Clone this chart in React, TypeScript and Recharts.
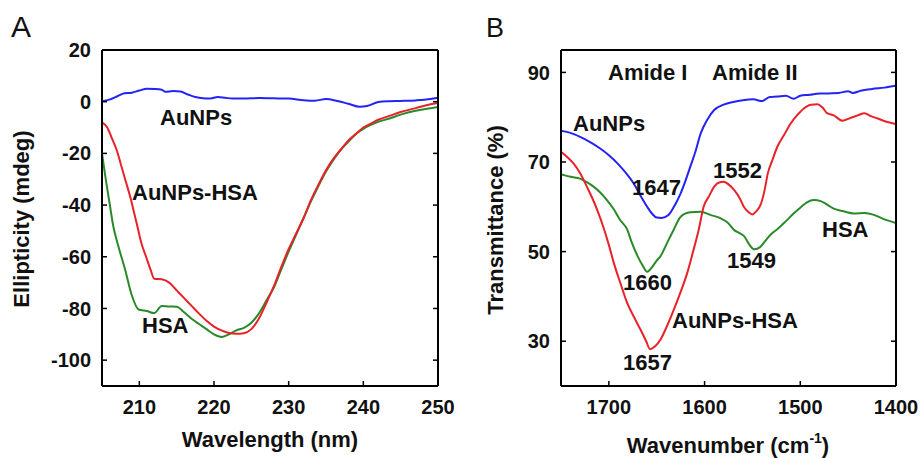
import React from "react";
import { LineChart, Line, XAxis, YAxis } from "recharts";

// Panel A: CD spectra, [wavelength nm, ellipticity mdeg]
const cdAuNPs = [
  [205, 0.2], [206, 0.8], [207, 2], [208, 3.3], [209, 3.5], [210, 4.3], [211, 5], [212, 4.9],
  [213, 4.6], [213.5, 3.8], [214.5, 4.1], [215.5, 3.9], [216.5, 2.8], [217.5, 1.8], [218.5, 1.3],
  [219.5, 1.2], [220.5, 1.8], [221.5, 1.5], [222.5, 1.2], [224, 1.2], [226, 1.4], [228, 1.3],
  [230, 1.2], [232, 0.6], [233.5, 0.4], [235, 1.0], [236.5, 0.3], [238, -0.8], [239.5, -2.0],
  [240.5, -1.7], [242, -0.1], [243.5, 0.2], [245, 0.3], [247, 0.5], [249, 1.0], [250, 1.5],
];

const cdAuNPsHSA = [
  [205, -8], [205.7, -10], [206.3, -14], [207, -19], [207.6, -25], [208.2, -31], [208.8, -37],
  [209.3, -43], [209.8, -49], [210.3, -55], [210.9, -60], [211.5, -65], [212, -68.5], [213, -68.7],
  [214, -70], [215, -73], [216, -76], [217, -79], [218, -82], [219, -84.8], [220, -87], [221, -88.5],
  [222, -89.5], [223, -89.8], [224, -89.6], [225, -88], [226, -84], [227, -78], [228, -71.5],
  [229, -64], [230, -57], [231, -51], [232, -45], [233, -38], [234, -32], [235, -26.5], [236, -22],
  [237, -18.5], [238, -15], [239, -12.5], [240, -10], [241, -8.5], [242, -7], [243.5, -5.5],
  [245, -4], [247, -2.5], [249, -1], [250, -0.5],
];

const cdHSA = [
  [205, -20], [205.5, -30], [206, -39], [206.5, -48], [207.2, -56], [208.1, -65], [209, -75],
  [209.9, -80.4], [211, -81], [212, -81.8], [213, -79], [214, -79.2], [215, -79.3], [216, -81.5],
  [217, -84], [218, -86], [219, -88], [220, -90], [221, -91], [222, -90], [223, -88.5], [224, -87.5],
  [225, -85.5], [226, -82], [227, -77], [228, -72], [229, -65], [230, -58], [231, -51.5], [232, -45],
  [233, -38.5], [234, -32.5], [235, -27], [236, -22.5], [237, -18.5], [238, -15.5], [239, -12.5],
  [240, -10.5], [241, -9], [242, -7.8], [243.5, -6.5], [245, -5], [247, -3.5], [249, -2.5], [250, -2],
];

// Panel B: FTIR, [wavenumber cm-1, transmittance %]
const irAuNPs = [
  [1750, 77], [1740, 76.5], [1730, 75.6], [1720, 74.5], [1709, 73], [1700, 71.5], [1691, 69.7],
  [1682, 67.5], [1674, 65.2], [1667, 62.5], [1660, 60], [1655, 58.5], [1650, 57.6], [1645, 57.5],
  [1638, 58.1], [1632, 60], [1625, 63], [1620, 65.8], [1615, 68.9], [1610, 72], [1604, 76.4],
  [1597, 79.5], [1590, 81.6], [1580, 82.8], [1570, 83.4], [1560, 83.8], [1549, 84], [1540, 83.6],
  [1532, 84.5], [1524, 84.6], [1515, 84.8], [1507, 84.1], [1500, 84.8], [1490, 85], [1480, 85.3],
  [1472, 85.3], [1460, 85.4], [1450, 85.8], [1445, 85.4], [1437, 85.9], [1425, 86.3], [1412, 86.6],
  [1400, 87],
];

const irAuNPsHSA = [
  [1750, 72.3], [1743, 71], [1737, 69.7], [1730, 67.5], [1723, 64.5], [1717, 61.8], [1712, 59.2],
  [1705, 55], [1700, 51.5], [1695, 47.6], [1688, 43], [1681, 38.6], [1674, 35.5], [1667, 32.6],
  [1661, 30], [1657, 28.2], [1652, 28.8], [1646, 30.4], [1639, 33.5], [1632, 37.1], [1625, 41],
  [1618, 45.3], [1612, 50], [1606, 55], [1601, 60], [1595, 62.5], [1590, 64.5], [1584, 65.5],
  [1580, 65.6], [1575, 65], [1569, 63.7], [1563, 61.8], [1559, 60], [1554, 58.8], [1550, 58.3],
  [1546, 59], [1541, 60.7], [1537, 64], [1534, 67.4], [1529, 70.5], [1524, 73.4], [1517, 76],
  [1510, 78.6], [1503, 80.5], [1496, 82], [1489, 82.8], [1482, 82.9], [1477, 82.2], [1472, 80.9],
  [1465, 80.4], [1456, 79.2], [1448, 79.8], [1440, 80.4], [1433, 80.9], [1427, 80.3], [1419, 79.7],
  [1410, 79], [1400, 78.5],
];

const irHSA = [
  [1750, 67.3], [1740, 66.7], [1730, 66.3], [1723, 65.5], [1716, 64.5], [1709, 63.2], [1702, 61.5],
  [1695, 59.5], [1688, 57], [1681, 55], [1676, 52], [1670, 49], [1665, 47], [1660, 45.5],
  [1655, 46.5], [1650, 48], [1646, 49], [1639, 52], [1632, 55], [1625, 57.8], [1615, 58.8],
  [1604, 58.9], [1594, 58.2], [1583, 57.4], [1576, 56.5], [1569, 54.8], [1564, 54.2], [1559, 53.5],
  [1553, 51.5], [1548, 50.5], [1542, 51], [1535, 52.8], [1530, 54], [1524, 55], [1515, 56.8],
  [1507, 58.5], [1500, 59.8], [1493, 61], [1486, 61.5], [1478, 61.2], [1470, 60.2], [1465, 59.6],
  [1455, 59], [1444, 58.5], [1433, 58.6], [1423, 58.2], [1412, 57.2], [1400, 56.4],
];

const cdXTicks = [205, 210, 220, 230, 240, 250];
const cdYTicks = [-100, -80, -60, -40, -20, 0, 20];
const irXTicks = [1700, 1600, 1500, 1400];
const irYTicks = [30, 50, 70, 90];

const BLUE = "#2323f5";
const RED = "#e82228";
const GREEN = "#2a8a2a";
const FONT = "'Liberation Sans', Arial, sans-serif";

const toPts = (arr: number[][]) => arr.map(([x, y]) => ({ x, y }));

const tickStyle = { fontSize: 20, fontWeight: 700, fill: "#111", fontFamily: FONT };
const axisLine = { stroke: "#000", strokeWidth: 2 };
const tickLine = { stroke: "#000", strokeWidth: 1.5 };
const blank = () => "";

function Frame({ xDomain, yDomain, xTicks, yTicks, reversed, hideFirstX, yWidth }: any) {
  return (
    <>
      <XAxis
        type="number"
        dataKey="x"
        domain={xDomain}
        ticks={xTicks}
        reversed={reversed}
        allowDataOverflow
        height={72}
        tickSize={-5}
        tickMargin={19}
        tick={tickStyle}
        tickFormatter={(v: number) => (hideFirstX && v === xDomain[0] ? "" : String(v))}
        axisLine={axisLine}
        tickLine={tickLine}
        interval={0}
      />
      <XAxis
        xAxisId="top"
        orientation="top"
        type="number"
        domain={xDomain}
        ticks={xTicks}
        reversed={reversed}
        allowDataOverflow
        height={1}
        tickSize={-5}
        tickFormatter={blank}
        axisLine={axisLine}
        tickLine={tickLine}
        interval={0}
      />
      <YAxis
        type="number"
        domain={yDomain}
        ticks={yTicks}
        allowDataOverflow
        width={yWidth}
        tickSize={-5}
        tickMargin={16}
        tick={tickStyle}
        axisLine={axisLine}
        tickLine={tickLine}
        interval={0}
      />
      <YAxis
        yAxisId="right"
        orientation="right"
        type="number"
        domain={yDomain}
        ticks={yTicks}
        allowDataOverflow
        width={1}
        tickSize={-5}
        tickFormatter={blank}
        axisLine={axisLine}
        tickLine={tickLine}
        interval={0}
      />
    </>
  );
}

function Series({ data, color }: { data: number[][]; color: string }) {
  return (
    <Line
      data={toPts(data)}
      dataKey="y"
      type="monotone"
      stroke={color}
      strokeWidth={2}
      dot={false}
      isAnimationActive={false}
    />
  );
}

const label = { fontFamily: FONT, fontWeight: 700, fontSize: 22, fill: "#111" } as const;

export default function App() {
  return (
    <div style={{ position: "absolute", left: 0, top: 0, width: 922, height: 458, background: "#fff" }}>
      <div style={{ position: "absolute", left: 0, top: 0 }}>
        <LineChart width={460} height={458} margin={{ top: 49, right: 21, bottom: 0, left: 0 }}>
          {Frame({ xDomain: [205, 250], yDomain: [-110, 20], xTicks: cdXTicks, yTicks: cdYTicks, hideFirstX: true, yWidth: 102 })}
          {Series({ data: cdAuNPs, color: BLUE })}
          {Series({ data: cdHSA, color: GREEN })}
          {Series({ data: cdAuNPsHSA, color: RED })}
        </LineChart>
      </div>
      <div style={{ position: "absolute", left: 460, top: 0 }}>
        <LineChart width={462} height={458} margin={{ top: 49, right: 25, bottom: 0, left: 0 }}>
          {Frame({ xDomain: [1400, 1750], yDomain: [20, 95], xTicks: irXTicks, yTicks: irYTicks, reversed: true, yWidth: 101 })}
          {Series({ data: irAuNPs, color: BLUE })}
          {Series({ data: irHSA, color: GREEN })}
          {Series({ data: irAuNPsHSA, color: RED })}
        </LineChart>
      </div>
      <svg width={922} height={458} style={{ position: "absolute", left: 0, top: 0, pointerEvents: "none" }}>
        <text x={11} y={37} style={{ fontFamily: FONT, fontSize: 30, fill: "#111" }}>A</text>
        <text x={486} y={37} style={{ fontFamily: FONT, fontSize: 27, fill: "#111" }}>B</text>

        <text x={270} y={447} textAnchor="middle" style={label}>Wavelength (nm)</text>
        <text x={29} y={219} textAnchor="middle" transform="rotate(-90 29 219)" style={label}>Ellipticity (mdeg)</text>
        <text x={160} y={125} style={label}>AuNPs</text>
        <text x={132} y={200} style={label}>AuNPs-HSA</text>
        <text x={142} y={333} style={label}>HSA</text>

        <text x={728} y={453} textAnchor="middle" style={label}>
          Wavenumber (cm<tspan fontSize={14} dy={-10}>-1</tspan><tspan dy={10}>)</tspan>
        </text>
        <text x={503} y={220} textAnchor="middle" transform="rotate(-90 503 220)" style={label}>Transmittance (%)</text>
        <text x={608} y={80} style={label}>Amide I</text>
        <text x={712} y={80} style={label}>Amide II</text>
        <text x={573} y={131} style={label}>AuNPs</text>
        <text x={632} y={195} style={label}>1647</text>
        <text x={713} y={178} style={label}>1552</text>
        <text x={822} y={237} style={label}>HSA</text>
        <text x={727} y={268} style={label}>1549</text>
        <text x={623} y={290} style={label}>1660</text>
        <text x={672} y={328} style={label}>AuNPs-HSA</text>
        <text x={623} y={370} style={label}>1657</text>
      </svg>
    </div>
  );
}
